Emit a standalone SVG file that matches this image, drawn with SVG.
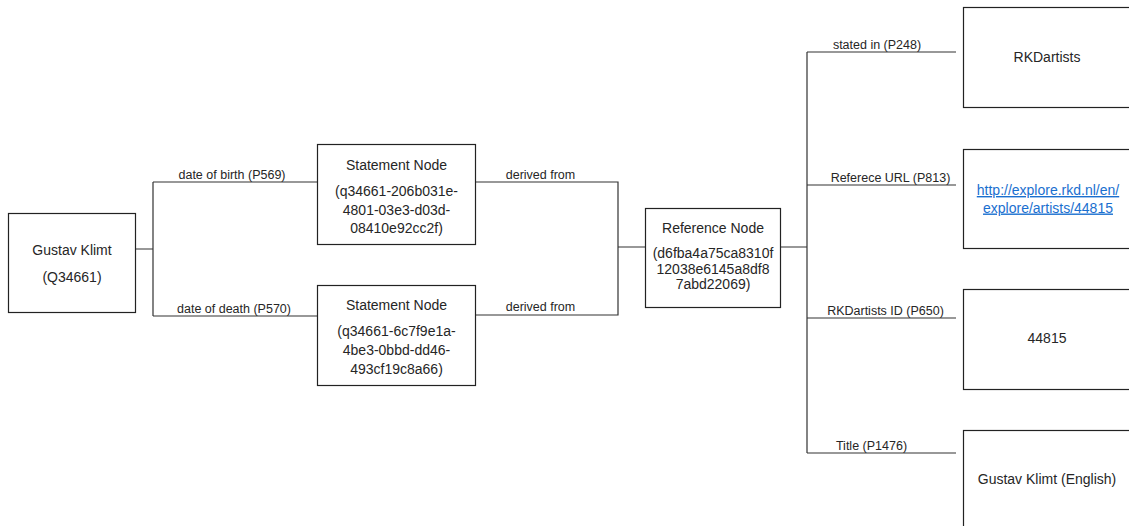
<svg xmlns="http://www.w3.org/2000/svg" width="1129" height="526" viewBox="0 0 1129 526">
<style>
.box{fill:#fff;stroke:#222;stroke-width:1.2}
.ln{fill:none;stroke:#333;stroke-width:1.2}
.nt{font-family:"Liberation Sans",Arial,sans-serif;font-size:14px;fill:#262626;text-anchor:middle}
.lb{font-family:"Liberation Sans",Arial,sans-serif;font-size:12.5px;fill:#262626;text-anchor:middle}
.url{font-family:"Liberation Sans",Arial,sans-serif;font-size:14px;fill:#1a6fcf;text-anchor:middle;text-decoration:underline}
</style>
<rect width="1129" height="526" fill="#fff"/>
<g id="connectors">
<path class="ln" d="M131,249H153M153,182V316M153,182H318M153,316H318"/>
<path class="ln" d="M470,182H618V315H470M618,247H645"/>
<path class="ln" d="M780,247H807M807,52V453M807,52H956M807,185H956M807,318H956M807,453H956"/>
<text class="lb" x="232" y="178.5">date of birth (P569)</text>
<text class="lb" x="234" y="313">date of death (P570)</text>
<text class="lb" x="540.5" y="178.5">derived from</text>
<text class="lb" x="540.5" y="311">derived from</text>
<text class="lb" x="877" y="48.5">stated in (P248)</text>
<text class="lb" x="890.5" y="181.5">Referece URL (P813)</text>
<text class="lb" x="885.5" y="314.5">RKDartists ID (P650)</text>
<text class="lb" x="871.5" y="449.5">Title (P1476)</text>
</g>
<g id="klimt">
<rect class="box" x="8.5" y="213.5" width="127" height="99"/>
<text class="nt" x="72" y="255">Gustav Klimt</text>
<text class="nt" x="72" y="281.5">(Q34661)</text>
</g>
<g id="statement1">
<rect class="box" x="317.5" y="144.5" width="158" height="100"/>
<text class="nt" x="396.5" y="169.5">Statement Node</text>
<text class="nt" x="396.5" y="196">(q34661-206b031e-</text>
<text class="nt" x="396.5" y="214.5">4801-03e3-d03d-</text>
<text class="nt" x="396.5" y="233">08410e92cc2f)</text>
</g>
<g id="statement2">
<rect class="box" x="317.5" y="285.5" width="158" height="100"/>
<text class="nt" x="396.5" y="309.5">Statement Node</text>
<text class="nt" x="396.5" y="336">(q34661-6c7f9e1a-</text>
<text class="nt" x="396.5" y="355">4be3-0bbd-dd46-</text>
<text class="nt" x="396.5" y="373.5">493cf19c8a66)</text>
</g>
<g id="reference">
<rect class="box" x="645.5" y="208.5" width="135" height="99"/>
<text class="nt" x="713" y="232.5">Reference Node</text>
<text class="nt" x="713" y="258">(d6fba4a75ca8310f</text>
<text class="nt" x="713" y="273.5">12038e6145a8df8</text>
<text class="nt" x="713" y="289">7abd22069)</text>
</g>
<g id="rkdartists">
<rect class="box" x="963.5" y="7.5" width="170" height="100"/>
<text class="nt" x="1047" y="61.5">RKDartists</text>
</g>
<g id="url">
<rect class="box" x="963.5" y="149.5" width="170" height="99"/>
<text class="url" x="1048" y="195">http://explore.rkd.nl/en/</text>
<text class="url" x="1048" y="212.5">explore/artists/44815</text>
</g>
<g id="rkdid">
<rect class="box" x="963.5" y="289.5" width="170" height="100"/>
<text class="nt" x="1047" y="343">44815</text>
</g>
<g id="title">
<rect class="box" x="963.5" y="430.5" width="170" height="110"/>
<text class="nt" x="1047" y="484">Gustav Klimt (English)</text>
</g>
</svg>
